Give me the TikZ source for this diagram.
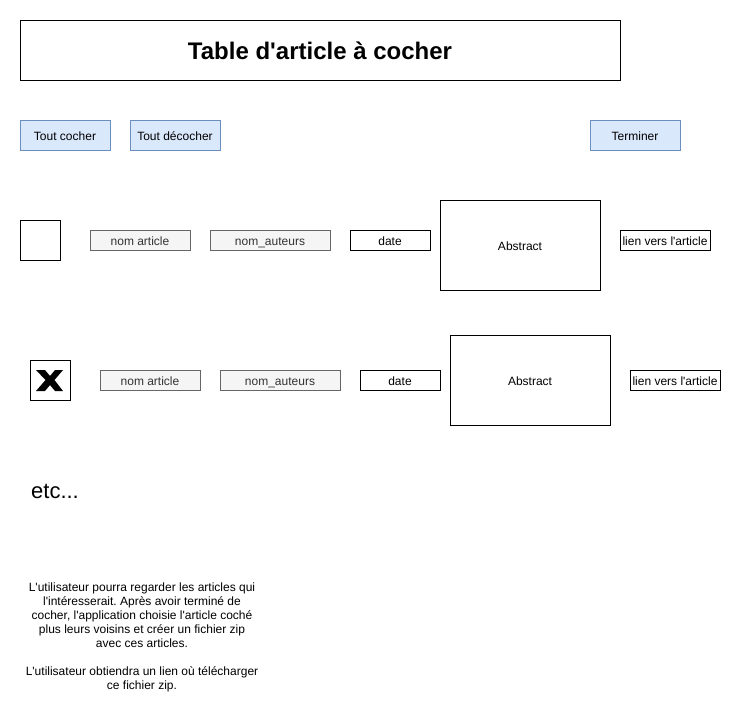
\documentclass[tikz,border=0pt]{standalone}
\usepackage{fontspec}
\setmainfont{Liberation Sans}[Ligatures=TeXOff]
\frenchspacing
\definecolor{btnfill}{HTML}{DAE8FC}
\definecolor{btndraw}{HTML}{6C8EBF}
\definecolor{grfill}{HTML}{F5F5F5}
\definecolor{grdraw}{HTML}{666666}
\definecolor{grtext}{HTML}{333333}
\begin{document}
\begin{tikzpicture}[x=1pt,y=-1pt,
  every node/.style={font=\fontsize{12}{14}\selectfont, inner sep=0pt},
  lbl/.style={text height=9pt, text depth=3pt, yshift=-1pt},
  box/.style={draw=black, line width=1pt, fill=white},
  btn/.style={draw=btndraw, fill=btnfill, line width=1pt},
  grey/.style={draw=grdraw, fill=grfill, line width=1pt},
  greytext/.style={lbl, text=grtext}]
\useasboundingbox (0,0) rectangle (741,721);
% title
\draw[box] (20,20) rectangle (620,80);
\node[font=\fontsize{24}{28}\selectfont\bfseries] (title) at (320,51) {Table d'article à cocher};
% buttons
\draw[btn] (20,120) rectangle (110,150);
\node[lbl] (b1) at (65,136) {Tout cocher};
\draw[btn] (130,120) rectangle (220,150);
\node[lbl] (b2) at (175,136) {Tout décocher};
\draw[btn] (590,120) rectangle (680,150);
\node[lbl] (b3) at (635,136) {Terminer};
% row 1
\draw[box] (20,220) rectangle (60,260);
\draw[grey] (90,230) rectangle (190,250);
\node[greytext] (na1) at (140,241) {nom article};
\draw[grey] (210,230) rectangle (330,250);
\node[greytext] (au1) at (270,241) {nom\_auteurs};
\draw[box] (350,230) rectangle (430,250);
\node[lbl] (d1) at (390,241) {date};
\draw[box] (440,200) rectangle (600,290);
\node[lbl] (ab1) at (520,246) {Abstract};
\draw[box] (620,230) rectangle (710,250);
\node[lbl] (l1) at (665,241) {lien vers l'article};
% row 2
\draw[box] (30,360) rectangle (70,400);
\fill[black] (36,370) -- (45,370) -- (50,376) -- (55,370) -- (63,370) -- (54.5,380) -- (63,391) -- (55,391) -- (50,385) -- (45,391) -- (36,391) -- (45.5,380) -- cycle;
\draw[grey] (100,370) rectangle (200,390);
\node[greytext] (na2) at (150,381) {nom article};
\draw[grey] (220,370) rectangle (340,390);
\node[greytext] (au2) at (280,381) {nom\_auteurs};
\draw[box] (360,370) rectangle (440,390);
\node[lbl] (d2) at (400,381) {date};
\draw[box] (450,335) rectangle (610,425);
\node[lbl] (ab2) at (530,381) {Abstract};
\draw[box] (630,370) rectangle (720,390);
\node[lbl] (l2) at (675,381) {lien vers l'article};
% etc
\node[font=\fontsize{22}{26}\selectfont] (etc) at (55,491) {etc...};
% note
\node[align=center] (note) at (142,637) {L'utilisateur pourra regarder les articles qui\\
l'intéresserait. Après avoir terminé de\\
cocher, l'application choisie l'article coché\\
plus leurs voisins et créer un fichier zip\\
avec ces articles.\\[14pt]
L'utilisateur obtiendra un lien où télécharger\\
ce fichier zip.};
\end{tikzpicture}
\end{document}
